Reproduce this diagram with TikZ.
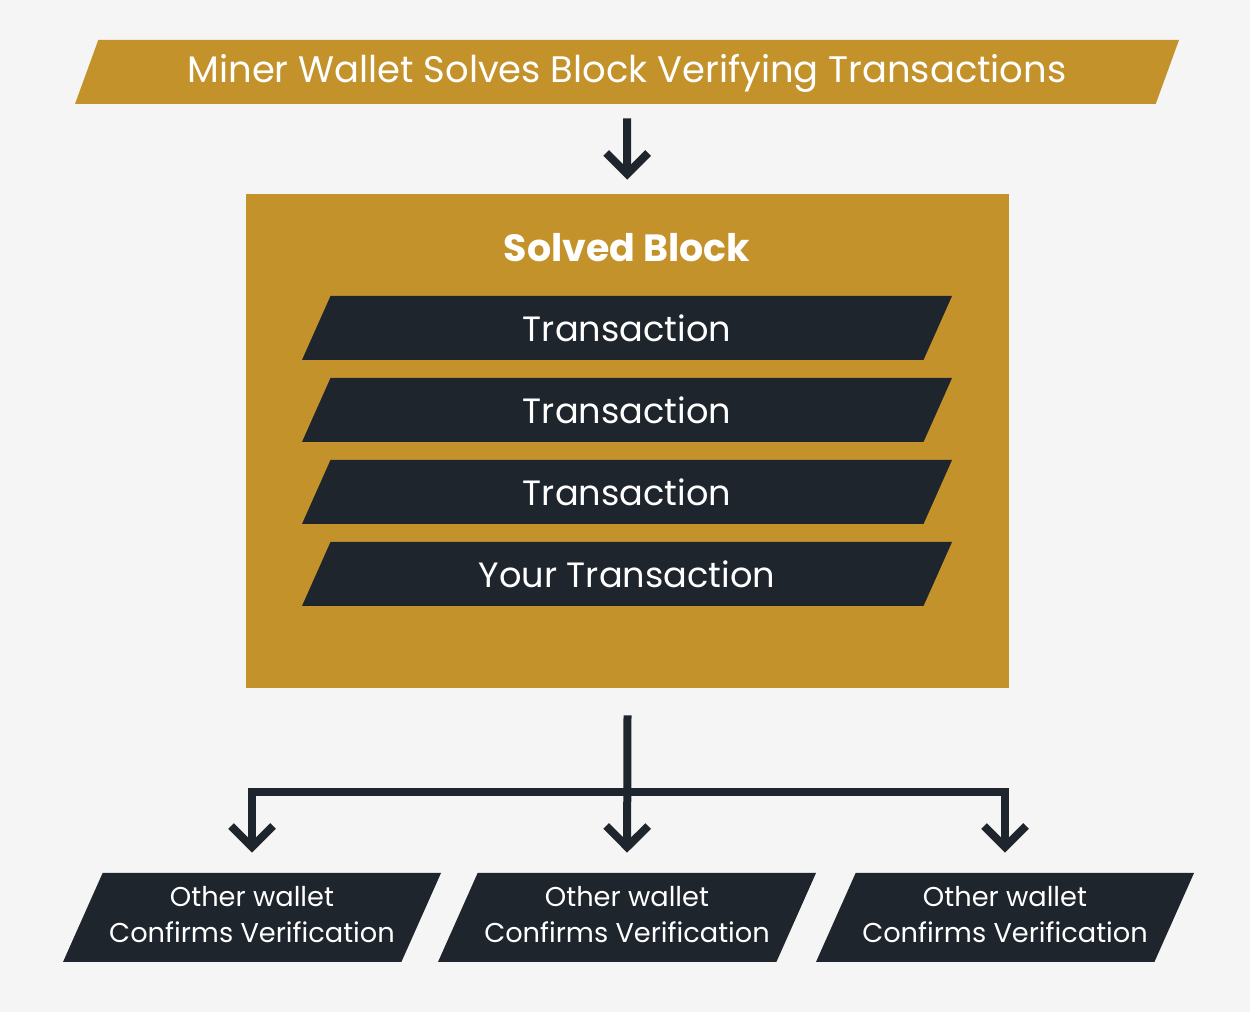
\documentclass[tikz,border=0pt]{standalone}
\usepackage{fontspec}
\setmainfont{Poppins}
\usepackage{xcolor}
\usepackage{tikz}
\usetikzlibrary{shapes.geometric, arrows.meta, positioning, calc}
\definecolor{pagegray}{HTML}{F5F5F5}
\definecolor{blockgold}{HTML}{C4922A}
\definecolor{barnavy}{HTML}{1F252D}
\tikzset{
  titlebar/.style={
    trapezium, trapezium left angle=70, trapezium right angle=110,
    trapezium stretches body, fill=blockgold, text=white,
    minimum width=22.08cm, inner sep=0pt,
    text height=0.86cm, text depth=0.42cm,
    font=\fontsize{21}{25}\selectfont
  },
  blockbox/.style={
    rectangle, fill=blockgold, minimum width=15.26cm,
    minimum height=9.88cm, inner sep=0pt
  },
  txbar/.style={
    trapezium, trapezium left angle=66, trapezium right angle=114,
    trapezium stretches body, fill=barnavy, text=white,
    minimum width=13cm, inner sep=0pt,
    text height=0.92cm, text depth=0.36cm,
    font=\fontsize{20}{24}\selectfont
  },
  walletbox/.style={
    trapezium, trapezium left angle=66, trapezium right angle=114,
    trapezium stretches body, fill=barnavy, text=white, align=center,
    minimum width=7.56cm, inner sep=0pt,
    text height=1.4cm, text depth=0.38cm,
    font=\fontsize{15.5}{20.5}\selectfont
  },
  flowarrow/.style={
    -{Straight Barb[length=0.42cm, width=0.84cm]}, line width=0.16cm,
    color=barnavy, line join=miter
  },
}

\begin{document}
\begin{tikzpicture}
  % Page
  \fill[pagegray] (0,0) rectangle (25,20.24);
  \useasboundingbox (0,0) rectangle (25,20.24);

  % Title
  \node[titlebar] (miner) at (12.54,18.8)
    {Miner Wallet Solves Block Verifying Transactions};

  % Solved block
  \node[blockbox] (block) at (12.55,11.42) {};
  \node[text=white, font=\fontsize{21.6}{26}\selectfont\bfseries]
    (blocktitle) at (12.54,15.28) {Solved Block};
  \node[txbar] (tx1) at (12.54,13.68) {Transaction};
  \node[txbar] (tx2) at (12.54,12.04) {Transaction};
  \node[txbar] (tx3) at (12.54,10.40) {Transaction};
  \node[txbar] (tx4) at (12.54,8.76) {Your Transaction};

  % Wallets
  \node[walletbox] (w1) at (5.04,1.89) {Other wallet\\Confirms Verification};
  \node[walletbox] (w2) at (12.54,1.89) {Other wallet\\Confirms Verification};
  \node[walletbox] (w3) at (20.1,1.89) {Other wallet\\Confirms Verification};

  % Arrows
  \coordinate (stem) at ([yshift=-0.54cm]block.south);
  \coordinate (hub) at (12.54,4.40);
  \draw[flowarrow, shorten <=0.28cm, shorten >=0.28cm] (miner) -- (block);
  \draw[flowarrow, shorten >=0.4cm] (stem) -- (w2.north);
  \draw[flowarrow, shorten >=0.4cm] (hub) -| (w1.north);
  \draw[flowarrow, shorten >=0.4cm] (hub) -| (w3.north);
\end{tikzpicture}
\end{document}
